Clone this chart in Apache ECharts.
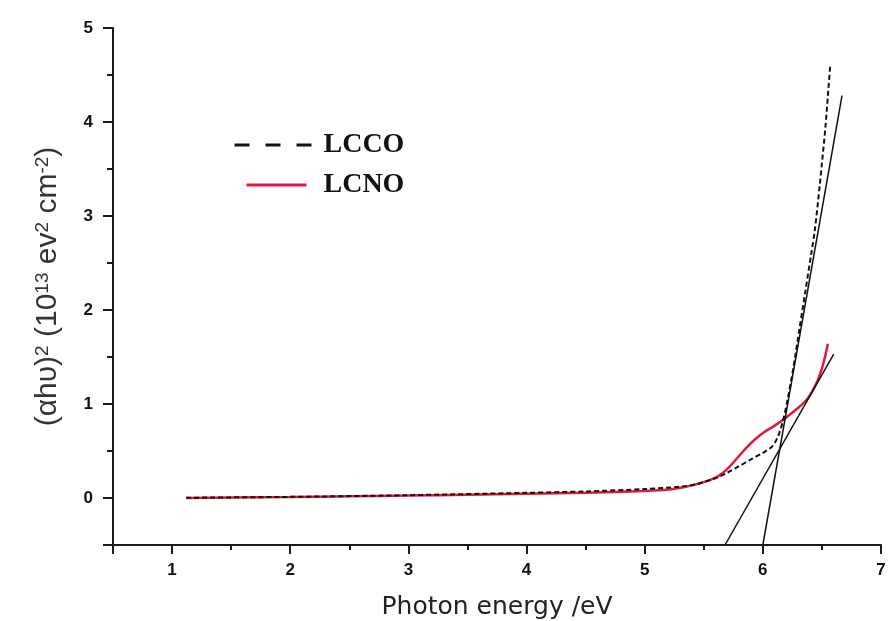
<!DOCTYPE html>
<html>
<head>
<meta charset="utf-8">
<script src="https://cdn.jsdelivr.net/npm/echarts@6/dist/echarts.min.js"></script>
<style>
html,body{margin:0;padding:0;background:#fff;}
#chart{width:888px;height:621px;}
</style>
</head>
<body>
<div id="chart"></div>
<script>
// Photon energy (eV) and (αhυ)² values
var lcnoX = [1.12, 1.5, 2.0, 2.5, 3.0, 3.5, 4.0, 4.5, 5.0, 5.2, 5.35, 5.45, 5.55, 5.62, 5.7, 5.78, 5.85, 5.93, 6.01, 6.1, 6.2, 6.3, 6.38, 6.46, 6.5, 6.53, 6.55];
var lcnoY = [0.0, 0.005, 0.01, 0.018, 0.026, 0.035, 0.045, 0.055, 0.075, 0.09, 0.12, 0.15, 0.19, 0.23, 0.31, 0.42, 0.52, 0.62, 0.70, 0.77, 0.86, 0.96, 1.06, 1.24, 1.38, 1.52, 1.64];

var lccoX = [1.12, 2.0, 3.0, 4.0, 4.5, 5.0, 5.3, 5.45, 5.55, 5.62, 5.7, 5.8, 5.9, 6.0, 6.08, 6.13, 6.17, 6.21, 6.26, 6.31, 6.36, 6.41, 6.44, 6.48, 6.5, 6.53, 6.55, 6.57];
var lccoY = [0.003, 0.012, 0.03, 0.055, 0.07, 0.095, 0.12, 0.15, 0.19, 0.22, 0.27, 0.34, 0.41, 0.48, 0.55, 0.66, 0.82, 1.05, 1.4, 1.8, 2.2, 2.6, 2.85, 3.31, 3.56, 3.95, 4.27, 4.6];

// Linear extrapolation (tangent) lines: endpoints
var fitSteepX = [6.00, 6.67];
var fitSteepY = [-0.5, 4.28];
var fitShallowX = [5.68, 6.60];
var fitShallowY = [-0.5, 1.53];

var seriesNames = ['LCCO', 'LCNO'];

function pairs(xs, ys) {
  return xs.map(function (x, i) { return [x, ys[i]]; });
}

var chart = echarts.init(document.getElementById('chart'), null, {renderer: 'canvas'});

var legendText = {fontFamily: 'Liberation Serif', fontWeight: 'bold', fontSize: 28, color: '#111'};

chart.setOption({
  animation: false,
  backgroundColor: '#fff',
  grid: {left: 113, right: 7, top: 28, bottom: 76, containLabel: false, outerBoundsMode: 'none'},
  legend: [
    {
      data: [{name: 'LCCO', lineStyle: {type: [15, 16], width: 3, color: '#111'}, itemStyle: {opacity: 0}}],
      lineStyle: {type: [15, 16], width: 3, color: '#111'},
      itemStyle: {opacity: 0},
      left: 233, top: 131, padding: 0, itemWidth: 77, itemHeight: 28,
      textStyle: Object.assign({padding: [0, 0, 0, 7]}, legendText)
    },
    {
      data: [{name: 'LCNO', lineStyle: {width: 3, color: '#e31a3b'}, itemStyle: {opacity: 0}}],
      lineStyle: {width: 3, color: '#e31a3b', type: 'solid'},
      itemStyle: {opacity: 0},
      left: 245, top: 171, padding: 0, itemWidth: 60, itemHeight: 28,
      textStyle: Object.assign({padding: [0, 0, 0, 12]}, legendText)
    }
  ],
  xAxis: {
    type: 'value', min: 0.5, max: 7, minInterval: 1, maxInterval: 1, splitNumber: 6,
    name: 'Photon energy /eV', nameLocation: 'middle', nameGap: 50,
    nameTextStyle: {fontFamily: 'DejaVu Sans', fontSize: 25, color: '#222'},
    axisLine: {show: true, onZero: false, lineStyle: {color: '#1a1a1a', width: 2}},
    axisTick: {show: true, inside: false, length: 9, lineStyle: {color: '#1a1a1a', width: 2}},
    minorTick: {show: true, splitNumber: 2, length: 5, lineStyle: {color: '#1a1a1a', width: 2}},
    axisLabel: {show: true, margin: 17, showMinLabel: false, fontFamily: 'Liberation Sans', fontWeight: 'bold', fontSize: 17, color: '#111'},
    splitLine: {show: false}
  },
  yAxis: {
    type: 'value', min: -0.5, max: 5, minInterval: 1, maxInterval: 1, splitNumber: 5,
    name: '(αhυ){s|2} (10{s|13} ev{s|2} cm{s|-2})', nameLocation: 'middle', nameGap: 50, nameRotate: 90,
    nameTextStyle: {
      fontFamily: 'Liberation Sans', fontSize: 30, color: '#333',
      rich: {s: {fontFamily: 'Liberation Sans', fontSize: 19, color: '#333', verticalAlign: 'top'}}
    },
    axisLine: {show: true, onZero: false, lineStyle: {color: '#1a1a1a', width: 2}},
    axisTick: {show: true, inside: false, length: 10, lineStyle: {color: '#1a1a1a', width: 2}},
    minorTick: {show: true, splitNumber: 2, length: 6, lineStyle: {color: '#1a1a1a', width: 2}},
    axisLabel: {show: true, margin: 20, showMinLabel: false, fontFamily: 'Liberation Sans', fontWeight: 'bold', fontSize: 17, color: '#111'},
    splitLine: {show: false}
  },
  series: [
    {
      name: 'LCNO', type: 'line', data: pairs(lcnoX, lcnoY), smooth: 0.3,
      symbol: 'none', showSymbol: false, z: 2,
      lineStyle: {color: '#e31a3b', width: 2.5}
    },
    {
      name: 'LCCO', type: 'line', data: pairs(lccoX, lccoY), smooth: 0.3,
      symbol: 'none', showSymbol: false, z: 3,
      lineStyle: {color: '#111', width: 2, type: [5, 3]}
    },
    {
      name: 'fit1', type: 'line', data: pairs(fitSteepX, fitSteepY),
      symbol: 'none', showSymbol: false, z: 4, silent: true,
      lineStyle: {color: '#111', width: 1.5}
    },
    {
      name: 'fit2', type: 'line', data: pairs(fitShallowX, fitShallowY),
      symbol: 'none', showSymbol: false, z: 4, silent: true,
      lineStyle: {color: '#111', width: 1.5}
    }
  ]
});
</script>
</body>
</html>
